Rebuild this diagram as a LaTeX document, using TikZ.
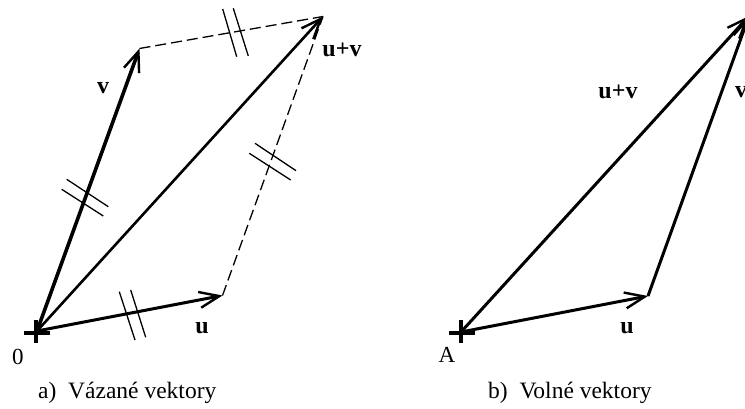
\documentclass[tikz,border=0pt]{standalone}
\usepackage{fontspec}
\setmainfont{Liberation Serif}
\usetikzlibrary{arrows.meta}
\begin{document}
\begin{tikzpicture}[x=1pt,y=-1pt,
  vecarrow/.style={-{Straight Barb[length=20pt,width=16pt,line width=2.4pt]}},
  thickvec/.style={vecarrow,line width=3.6pt},
  midvec/.style={vecarrow,line width=3pt},
  thinvec/.style={vecarrow,line width=2.6pt},
  dashline/.style={line width=1.3pt,dash pattern=on 11pt off 5pt},
  tick/.style={line width=1.3pt},
  cross/.style={line width=3.3pt},
  lab/.style={font=\fontsize{24}{28}\selectfont\bfseries,inner sep=0pt},
  plain/.style={font=\fontsize{23}{27}\selectfont,inner sep=0pt},
  capt/.style={font=\fontsize{23.5}{28}\selectfont,inner sep=0pt,anchor=base west}
]
\useasboundingbox (0,0) rectangle (745,409);
\clip (0,0) rectangle (745,409);

% ---------- left panel ----------
\coordinate (O) at (37,331);
\coordinate (U) at (222.5,295.5);
\coordinate (V) at (139.5,48.5);
\coordinate (S) at (323,16.5);

\draw[dashline] (V) -- (S);
\draw[dashline] (U) -- (S);
\draw[thickvec] (O) -- (V);
\draw[midvec] (O) -- (U);
\draw[thinvec] (O) -- (S);

% equality ticks
\draw[tick] (66.7,179.3) -- (108.3,206.7);
\draw[tick] (61.7,189.3) -- (103.3,216);
\draw[tick] (119.3,291.7) -- (135,340);
\draw[tick] (130.7,290) -- (145.7,337.3);
\draw[tick] (222.7,9) -- (236.7,56.7);
\draw[tick] (233.3,8.3) -- (248.3,56);
\draw[tick] (255,143.3) -- (296,170.7);
\draw[tick] (249.3,153.3) -- (290.7,180);

% origin cross
\coordinate (Oc) at (36,333);
\draw[cross] ([xshift=-12pt]Oc) -- ([xshift=14pt]Oc);
\draw[cross] ([yshift=-10pt]Oc) -- ([yshift=13pt]Oc);

\node[lab] (lv) at (103,88) {v};
\node[lab] (luv) at (342,50) {u+v};
\node[lab] (lu) at (202,328) {u};
\node[plain] (l0) at (18,357) {0};
\node[capt] (capa) at (38,398) {a)\ \ Vázané vektory};

% ---------- right panel ----------
\coordinate (A) at (461,332);
\coordinate (U2) at (648,296);
\coordinate (S2) at (749,16);

\draw[midvec] (A) -- (U2);
\draw[midvec] (U2) -- (S2);
\draw[midvec] (A) -- (S2);

\coordinate (Ac) at (461,333);
\draw[cross] ([xshift=-12pt]Ac) -- ([xshift=14pt]Ac);
\draw[cross] ([yshift=-10pt]Ac) -- ([yshift=13pt]Ac);

\node[lab] (ruv) at (618,92) {u+v};
\node[lab] (rv) at (741,92) {v};
\node[lab] (ru) at (627,328) {u};
\node[plain] (lA) at (447,355) {A};
\node[capt] (capb) at (488,398) {b)\ \ Volné vektory};
\end{tikzpicture}
\end{document}
